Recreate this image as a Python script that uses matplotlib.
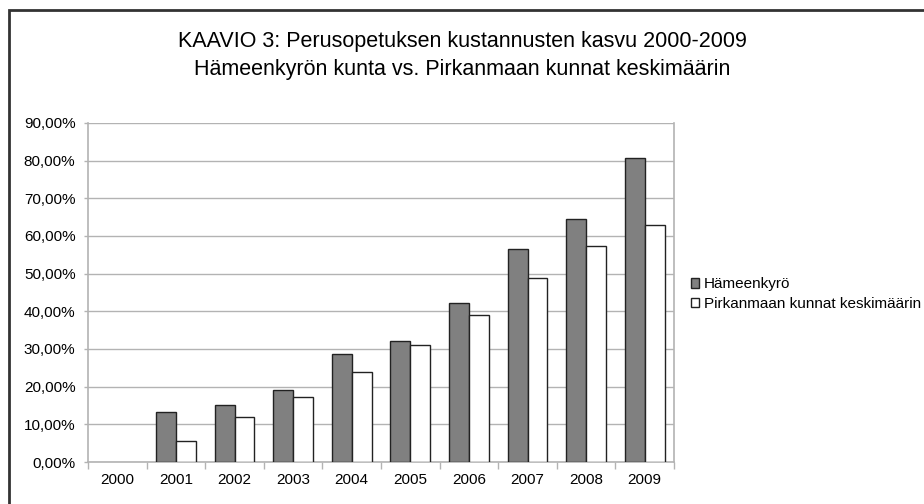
import matplotlib.pyplot as plt
import matplotlib.patches as mpatches
import numpy as np

plt.rcParams['font.family'] = ['Liberation Sans', 'DejaVu Sans']

years = ["2000", "2001", "2002", "2003", "2004", "2005", "2006", "2007", "2008", "2009"]
# 2000 is the base year: no bar drawn
hameenkyro = [np.nan, 13.3, 15.2, 19.0, 28.7, 32.0, 42.2, 56.5, 64.5, 80.8]
pirkanmaa = [np.nan, 5.6, 11.9, 17.2, 24.0, 31.0, 39.0, 48.8, 57.4, 62.8]
labels = ["Hämeenkyrö", "Pirkanmaan kunnat keskimäärin"]

fig = plt.figure(figsize=(9.24, 5.04), dpi=100)
ax = fig.add_axes([88 / 924, 1 - 462 / 504, (674 - 88) / 924, (462 - 123) / 504])

x = np.arange(len(years))
w = 0.34
ax.bar(x - w / 2, hameenkyro, w, color="#808080", edgecolor="#222222", linewidth=1.0,
       label=labels[0], zorder=3)
ax.bar(x + w / 2, pirkanmaa, w, color="white", edgecolor="#222222", linewidth=1.0,
       label=labels[1], zorder=3)

ax.set_xlim(-0.5, len(years) - 0.5)
ax.set_ylim(0, 90)
ax.set_yticks(np.arange(0, 91, 10))
ax.set_yticklabels([f"{v},00%" for v in range(0, 91, 10)])
ax.yaxis.grid(True, color="#b3b3b3", linewidth=1.0, zorder=0)

ax.set_xticks(x)
ax.set_xticklabels(years)
ax.set_xticks(np.arange(-0.5, len(years)), minor=True)
ax.tick_params(axis="x", which="major", length=0, pad=8, labelsize=11)
ax.tick_params(axis="x", which="minor", length=5, color="#b3b3b3", width=1)
ax.tick_params(axis="y", length=3, color="#b3b3b3", width=1, labelsize=11, pad=6)

for s in ["left", "bottom", "right"]:
    ax.spines[s].set_color("#b3b3b3")
    ax.spines[s].set_linewidth(1.2)
ax.spines["top"].set_visible(False)

fig.text(0.5, 1 - 42 / 504, "KAAVIO 3: Perusopetuksen kustannusten kasvu 2000-2009",
         ha="center", va="center", fontsize=15.5)
fig.text(0.5, 1 - 70 / 504, "Hämeenkyrön kunta vs. Pirkanmaan kunnat keskimäärin",
         ha="center", va="center", fontsize=15.5)

ax.legend(loc="center left", bbox_to_anchor=(691 / 924, 1 - 294 / 504),
          bbox_transform=fig.transFigure, frameon=False, fontsize=11,
          handlelength=0.55, handleheight=0.55, handletextpad=0.3,
          labelspacing=0.35, borderaxespad=0, borderpad=0)

frame = mpatches.Rectangle((9 / 924, -0.05), 1.1, 1 - 10 / 504 + 0.05,
                           transform=fig.transFigure, fill=False,
                           edgecolor="#333333", linewidth=2, clip_on=False)
fig.patches.append(frame)

fig.savefig("out.png", dpi=100, facecolor="white")
